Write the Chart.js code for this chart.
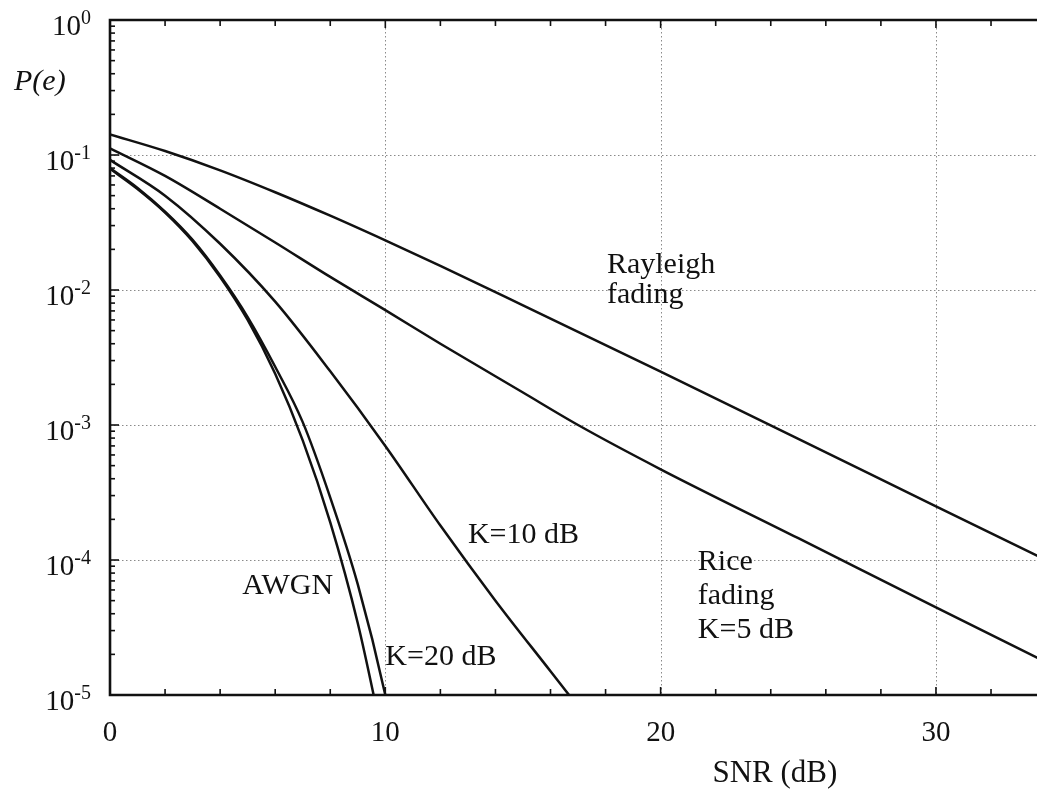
<!DOCTYPE html>
<html>
<head>
<meta charset="utf-8">
<script src="https://cdn.jsdelivr.net/npm/chart.js@4.4.1/dist/chart.umd.min.js"></script>
<style>
  html, body { margin: 0; padding: 0; background: #fff; }
  #wrap { width: 1037px; height: 795px; position: relative; }
</style>
</head>
<body>
<div id="wrap"><canvas id="berChart"></canvas></div>
<script>
// values (SNR in dB, P(e))
const snrAwgn = [0, 1, 2, 3, 4, 5, 6, 7, 8, 9, 10];
const pAwgn = [0.079, 0.056, 0.0375, 0.023, 0.0125, 0.0060, 0.0024, 7.7e-4, 1.9e-4, 3.4e-5, 3.9e-6];

const snrK20 = [0, 1, 2, 3, 4, 5, 6, 7, 8, 9, 10, 10.5];
const pK20 = [0.080, 0.057, 0.038, 0.0235, 0.0128, 0.0063, 0.0027, 1.05e-3, 2.9e-4, 6.6e-5, 1.0e-5, 3.0e-6];

const snrK10 = [0, 2, 4, 6, 8, 10, 12, 14, 16, 18];
const pK10 = [0.092, 0.050, 0.022, 0.0082, 0.0025, 7.0e-4, 1.8e-4, 5.0e-5, 1.5e-5, 4.5e-6];

const snrK5 = [0, 2, 4, 6, 8, 10, 12, 15, 17, 20, 25, 30, 34];
const pK5 = [0.112, 0.070, 0.040, 0.0225, 0.0125, 0.0071, 0.0040, 0.00174, 0.0010, 4.7e-4, 1.45e-4, 4.45e-5, 1.75e-5];

const snrRayleigh = [0, 2, 4, 6, 8, 10, 12, 15, 20, 25, 30, 34];
const pRayleigh = [0.142, 0.107, 0.077, 0.053, 0.0355, 0.0233, 0.0151, 0.0077, 0.00248, 7.9e-4, 2.5e-4, 1.0e-4];

// axis ticks
const xTickValues = [0, 10, 20, 30];
const xMinorTicks = [2, 4, 6, 8, 12, 14, 16, 18, 22, 24, 26, 28, 32];
const yTickExponents = [0, -1, -2, -3, -4, -5];

// curve labels, anchored in data coordinates
const curveLabels = [
  { lines: ['Rayleigh', 'fading'], x: 18.05, y: 0.0134, step: 30 },
  { lines: ['Rice', 'fading', 'K=5 dB'], x: 21.35, y: 8.5e-5, step: 34 },
  { lines: ['K=10 dB'], x: 13.0, y: 1.33e-4, step: 0 },
  { lines: ['K=20 dB'], x: 10.0, y: 1.68e-5, step: 0 },
  { lines: ['AWGN'], x: 4.8, y: 5.6e-5, step: 0 }
];

function toPoints(xs, ys) {
  return xs.map((x, i) => ({ x: x, y: ys[i] }));
}

const serif = "'Liberation Serif', 'DejaVu Serif', serif";
const ink = '#111';

const framePlugin = {
  id: 'frame',
  beforeDatasetsDraw(chart) {
    const ctx = chart.ctx;
    const area = chart.chartArea;
    const xs = chart.scales.x, ys = chart.scales.y;
    ctx.save();
    ctx.strokeStyle = '#8a8a8a';
    ctx.lineWidth = 1;
    ctx.setLineDash([1.5, 2.5]);
    xTickValues.slice(1).forEach(v => {
      const px = Math.round(xs.getPixelForValue(v)) + 0.5;
      ctx.beginPath();
      ctx.moveTo(px, area.top);
      ctx.lineTo(px, area.bottom);
      ctx.stroke();
    });
    yTickExponents.slice(1, -1).forEach(e => {
      const py = Math.round(ys.getPixelForValue(Math.pow(10, e))) + 0.5;
      ctx.beginPath();
      ctx.moveTo(area.left, py);
      ctx.lineTo(area.right, py);
      ctx.stroke();
    });
    ctx.restore();
  },
  afterDatasetsDraw(chart) {
    const ctx = chart.ctx;
    const area = chart.chartArea;
    const xs = chart.scales.x, ys = chart.scales.y;
    ctx.save();
    ctx.strokeStyle = ink;
    ctx.fillStyle = ink;

    // spines
    ctx.lineWidth = 2.6;
    ctx.beginPath();
    ctx.moveTo(area.right + 2, area.top);
    ctx.lineTo(area.left, area.top);
    ctx.lineTo(area.left, area.bottom);
    ctx.lineTo(area.right + 2, area.bottom);
    ctx.stroke();

    // x ticks (bottom and top, inward)
    ctx.lineWidth = 1.6;
    const xTicks = xTickValues.concat(xMinorTicks);
    xTicks.forEach(v => {
      const px = xs.getPixelForValue(v);
      const len = xTickValues.includes(v) ? 8 : 6;
      ctx.beginPath();
      ctx.moveTo(px, area.bottom);
      ctx.lineTo(px, area.bottom - len);
      ctx.moveTo(px, area.top);
      ctx.lineTo(px, area.top + len);
      ctx.stroke();
    });

    // y ticks (left, inward), decades plus log minors
    yTickExponents.forEach(e => {
      const py = ys.getPixelForValue(Math.pow(10, e));
      ctx.beginPath();
      ctx.moveTo(area.left, py);
      ctx.lineTo(area.left + 9, py);
      ctx.stroke();
      if (e < 0) {
        for (let m = 2; m <= 9; m++) {
          const pm = ys.getPixelForValue(m * Math.pow(10, e));
          ctx.beginPath();
          ctx.moveTo(area.left, pm);
          ctx.lineTo(area.left + 5, pm);
          ctx.stroke();
        }
      }
    });

    // x tick labels
    ctx.font = '29px ' + serif;
    ctx.textAlign = 'center';
    ctx.textBaseline = 'alphabetic';
    xTickValues.forEach(v => {
      ctx.fillText(String(v), xs.getPixelForValue(v), area.bottom + 46);
    });

    // y tick labels: 10 with superscript exponent
    yTickExponents.forEach(e => {
      const py = ys.getPixelForValue(Math.pow(10, e));
      const exp = String(e);
      ctx.font = '20px ' + serif;
      const wExp = ctx.measureText(exp).width;
      ctx.font = '29px ' + serif;
      const wBase = ctx.measureText('10').width;
      const right = area.left - 19;
      ctx.textAlign = 'left';
      ctx.fillText('10', right - wExp - wBase, py + 15);
      ctx.font = '20px ' + serif;
      ctx.fillText(exp, right - wExp, py + 4);
    });

    // axis titles
    ctx.font = 'italic 30px ' + serif;
    ctx.textAlign = 'left';
    ctx.fillText('P(e)', 14, 90);
    ctx.font = '31px ' + serif;
    ctx.textAlign = 'center';
    ctx.fillText('SNR (dB)', xs.getPixelForValue(24.15), area.bottom + 87);

    // curve labels
    ctx.font = '30px ' + serif;
    ctx.textAlign = 'left';
    curveLabels.forEach(lab => {
      const px = xs.getPixelForValue(lab.x);
      const py = ys.getPixelForValue(lab.y);
      lab.lines.forEach((t, i) => ctx.fillText(t, px, py + i * lab.step));
    });
    ctx.restore();
  }
};

const lineStyle = {
  borderColor: ink,
  borderWidth: 2.5,
  pointRadius: 0,
  fill: false,
  cubicInterpolationMode: 'monotone'
};

const ctxBer = document.getElementById('berChart').getContext('2d');
const berChart = new Chart(ctxBer, {
  type: 'line',
  data: {
    datasets: [
      Object.assign({ label: 'AWGN', data: toPoints(snrAwgn, pAwgn) }, lineStyle),
      Object.assign({ label: 'K=20 dB', data: toPoints(snrK20, pK20) }, lineStyle),
      Object.assign({ label: 'K=10 dB', data: toPoints(snrK10, pK10) }, lineStyle),
      Object.assign({ label: 'Rice fading K=5 dB', data: toPoints(snrK5, pK5) }, lineStyle),
      Object.assign({ label: 'Rayleigh fading', data: toPoints(snrRayleigh, pRayleigh) }, lineStyle)
    ]
  },
  options: {
    responsive: true,
    maintainAspectRatio: false,
    animation: false,
    layout: { padding: { left: 110, top: 20, right: 0, bottom: 100 } },
    plugins: {
      legend: { display: false },
      tooltip: { enabled: false }
    },
    scales: {
      x: { type: 'linear', min: 0, max: 33.67, display: false },
      y: { type: 'logarithmic', min: 1e-5, max: 1, display: false }
    }
  },
  plugins: [framePlugin]
});
</script>
</body>
</html>
